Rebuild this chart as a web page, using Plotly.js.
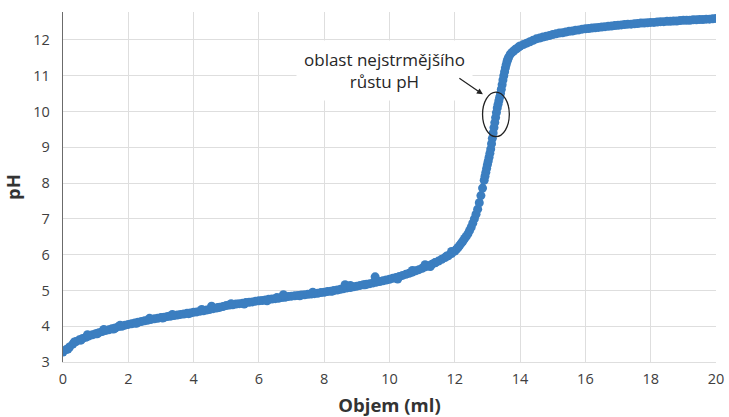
<!DOCTYPE html>
<html>
<head>
<meta charset="utf-8">
<script src="https://cdn.plot.ly/plotly-3.0.1.min.js"></script>
<style>html,body{margin:0;padding:0;background:#fff;}#chart{width:729px;height:417px;}</style>
</head>
<body>
<div id="chart"></div>
<script>
// Objem (ml) – volume of titrant added
const volume = [
  0.0,0.1,0.2,0.3,0.4,0.5,0.6,0.7,0.8,0.9,1.0,
  1.1,1.2,1.3,1.4,1.5,1.6,1.7,1.8,1.9,2.0,
  2.1,2.2,2.3,2.4,2.5,2.6,2.7,2.8,2.9,3.0,
  3.1,3.2,3.3,3.4,3.5,3.6,3.7,3.8,3.9,4.0,
  4.1,4.2,4.3,4.4,4.5,4.6,4.7,4.8,4.9,5.0,
  5.1,5.2,5.3,5.4,5.5,5.6,5.7,5.8,5.9,6.0,
  6.1,6.2,6.3,6.4,6.5,6.6,6.7,6.8,6.9,7.0,
  7.1,7.2,7.3,7.4,7.5,7.6,7.7,7.8,7.9,8.0,
  8.1,8.2,8.3,8.4,8.5,8.6,8.7,8.8,8.9,9.0,
  9.1,9.2,9.3,9.4,9.5,9.6,9.7,9.8,9.9,10.0,
  10.1,10.2,10.3,10.4,10.5,10.6,10.7,10.8,10.9,11.0,
  11.1,11.2,11.3,11.4,11.5,11.6,11.7,11.8,11.9,12.0,
  12.05,12.10,12.15,12.20,12.25,12.30,12.35,12.40,12.45,12.50,
  12.55,12.60,12.65,12.70,12.75,12.80,12.85,12.90,12.95,13.00,
  13.05,13.10,13.15,13.20,13.25,13.30,13.35,13.40,13.45,13.50,
  13.55,13.60,13.65,13.70,13.75,13.80,13.85,13.90,13.95,14.00,
  14.1,14.2,14.3,14.4,14.5,14.6,14.7,14.8,14.9,15.0,
  15.1,15.2,15.3,15.4,15.5,15.6,15.7,15.8,15.9,16.0,
  16.1,16.2,16.3,16.4,16.5,16.6,16.7,16.8,16.9,17.0,
  17.1,17.2,17.3,17.4,17.5,17.6,17.7,17.8,17.9,18.0,
  18.1,18.2,18.3,18.4,18.5,18.6,18.7,18.8,18.9,19.0,
  19.1,19.2,19.3,19.4,19.5,19.6,19.7,19.8,19.9,20.0,
  // denser readings through the steepest part
  12.925,12.975,13.025,13.075,13.125,13.175,13.225,13.275,13.325,13.375,13.425,13.475,13.525,13.575,13.625,
  // scattered readings slightly off the main band
  0.35,0.75,1.25,1.75,2.65,3.35,4.25,4.55,5.15,6.55,6.75,7.65,8.64,8.8,9.56,10.7,11.09,11.4,11.75,11.9,
  0.15,0.55,1.05,1.55,2.25,3.05,3.85,4.75,5.55,6.25,7.25,8.25,9.25,10.25,11.25
];
// pH readings
const pH = [
  3.28,3.35,3.42,3.50,3.57,3.62,3.66,3.69,3.73,3.76,3.79,
  3.82,3.85,3.88,3.90,3.93,3.95,3.99,4.00,4.03,4.05,
  4.07,4.09,4.11,4.13,4.15,4.17,4.19,4.21,4.22,4.24,
  4.25,4.27,4.28,4.30,4.31,4.33,4.34,4.36,4.37,4.39,
  4.40,4.42,4.43,4.45,4.47,4.49,4.51,4.53,4.55,4.58,
  4.59,4.60,4.62,4.63,4.64,4.66,4.67,4.68,4.70,4.71,
  4.72,4.73,4.75,4.76,4.77,4.78,4.80,4.81,4.83,4.84,
  4.85,4.86,4.87,4.88,4.89,4.90,4.91,4.92,4.94,4.95,
  4.97,4.98,5.00,5.01,5.03,5.05,5.07,5.08,5.10,5.12,
  5.14,5.16,5.17,5.19,5.21,5.23,5.25,5.27,5.29,5.31,
  5.34,5.36,5.39,5.42,5.45,5.48,5.51,5.55,5.58,5.62,
  5.66,5.69,5.73,5.77,5.82,5.87,5.92,5.97,6.03,6.10,
  6.15,6.20,6.26,6.32,6.38,6.45,6.51,6.58,6.67,6.76,
  6.88,7.00,7.13,7.27,7.45,7.65,7.86,8.08,8.30,8.52,
  8.72,8.95,9.25,9.55,9.83,10.10,10.30,10.50,10.75,11.00,
  11.22,11.40,11.52,11.60,11.65,11.69,11.73,11.76,11.80,11.83,
  11.87,11.91,11.95,11.99,12.03,12.05,12.08,12.10,12.12,12.15,
  12.17,12.19,12.20,12.22,12.24,12.25,12.27,12.28,12.30,12.31,
  12.32,12.33,12.34,12.35,12.36,12.37,12.38,12.39,12.40,12.41,
  12.42,12.43,12.44,12.44,12.45,12.46,12.47,12.47,12.48,12.49,
  12.49,12.50,12.51,12.51,12.52,12.52,12.53,12.53,12.54,12.55,
  12.55,12.55,12.56,12.56,12.57,12.57,12.58,12.58,12.59,12.60,
  8.19,8.41,8.62,8.83,9.10,9.40,9.69,9.97,10.20,10.40,10.62,10.88,11.11,11.31,11.46,
  3.56,3.76,3.91,4.03,4.22,4.33,4.47,4.56,4.63,4.80,4.88,4.95,5.16,5.14,5.38,5.56,5.72,5.78,5.96,6.09,
  3.36,3.61,3.79,3.92,4.08,4.23,4.35,4.52,4.62,4.71,4.85,4.98,5.16,5.32,5.67
];
const xTicks = [0,2,4,6,8,10,12,14,16,18,20];
const yTicks = [3,4,5,6,7,8,9,10,11,12];
const xLabel = 'Objem (ml)';
const yLabel = 'pH';
const noteText = 'oblast nejstrmějšího<br>růstu pH';

const font = '"Open Sans", "Noto Sans", sans-serif';
const trace = {
  x: volume, y: pH, type: 'scatter', mode: 'markers',
  marker: {color: '#3b7ec0', size: 9, line: {width: 0}},
  hoverinfo: 'skip'
};
const layout = {
  width: 729, height: 417,
  margin: {l: 63, r: 13, t: 12, b: 55},
  paper_bgcolor: '#ffffff', plot_bgcolor: '#ffffff',
  showlegend: false,
  font: {family: font, color: '#404040', size: 14},
  xaxis: {
    range: [0, 20], tickvals: xTicks, ticktext: xTicks.map(String),
    showgrid: true, gridcolor: '#dedede', gridwidth: 1,
    showline: true, linecolor: '#dedede', linewidth: 1,
    zeroline: false, ticks: '', ticklabelstandoff: 4,
    tickfont: {family: font, size: 14.5, color: '#404040'},
    title: {text: '<b>' + xLabel + '</b>', font: {family: font, size: 18.5, color: '#333333'}, standoff: 11}
  },
  yaxis: {
    range: [3, 12.78], tickvals: yTicks, ticktext: yTicks.map(String),
    showgrid: true, gridcolor: '#dedede', gridwidth: 1,
    showline: true, linecolor: '#6b6b6b', linewidth: 1.3,
    zeroline: false, ticks: '', ticklabelstandoff: 9,
    tickfont: {family: font, size: 14.5, color: '#404040'},
    title: {text: '<b>' + yLabel + '</b>', font: {family: font, size: 18.5, color: '#333333'}, standoff: 8}
  },
  shapes: [{
    type: 'circle', xref: 'x', yref: 'y',
    x0: 12.85, x1: 13.67, y0: 9.30, y1: 10.54,
    line: {color: '#222222', width: 1.3}
  }],
  annotations: [{
    x: 9.86, y: 11.14, xref: 'x', yref: 'y',
    text: noteText, showarrow: false,
    font: {family: font, size: 17, color: '#262626'},
    bgcolor: '#ffffff', borderpad: 7, align: 'center'
  }, {
    x: 12.86, y: 10.48, xref: 'x', yref: 'y',
    text: '', showarrow: true, ax: -25, ay: -17,
    arrowhead: 2, arrowsize: 1, arrowwidth: 1.2, arrowcolor: '#222222'
  }]
};
Plotly.newPlot('chart', [trace], layout, {displayModeBar: false, staticPlot: true});
</script>
</body>
</html>
